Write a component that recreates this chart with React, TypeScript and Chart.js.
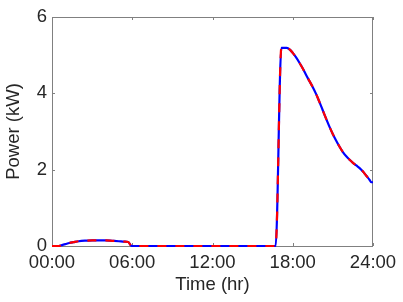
import React, { useEffect, useRef } from "react";
import { Chart, registerables } from "chart.js";

Chart.register(...registerables);

const hours = [
  0, 0.5, 0.8, 1.0, 1.3, 1.6, 2.0, 2.5, 3.0, 3.5, 4.0, 4.5, 5.0, 5.4, 5.7, 5.95,
  8, 12, 16.72, 17.15, 17.55, 17.8, 18.0, 18.25, 18.5, 18.75, 19.0, 19.25, 19.5,
  19.75, 20.0, 20.25, 20.5, 20.75, 21.0, 21.25, 21.5, 21.75, 22.0, 22.25, 22.5,
  22.75, 23.0, 23.25, 23.5, 23.75, 23.88, 24.0,
];
const power = [
  0, 0, 0.03, 0.05, 0.08, 0.1, 0.125, 0.14, 0.148, 0.15, 0.145, 0.135, 0.125,
  0.115, 0.105, 0, 0, 0, 0, 5.19, 5.19, 5.14, 5.06, 4.94, 4.8, 4.65, 4.48,
  4.32, 4.16, 3.98, 3.77, 3.55, 3.33, 3.12, 2.93, 2.76, 2.6, 2.46, 2.35, 2.26,
  2.18, 2.11, 2.04, 1.95, 1.84, 1.73, 1.67, 1.67,
];
const xTicks = [0, 6, 12, 18, 24];
const yTicks = [0, 2, 4, 6];
const xTitle = "Time (hr)";
const yTitle = "Power (kW)";

const FONT = "'Liberation Sans', Arial, Helvetica, sans-serif";
const TEXT = "#262626";

const boxPlugin = {
  id: "matlabBox",
  beforeDatasetsDraw(chart: any) {
    const { ctx, chartArea: a, scales } = chart;
    ctx.save();
    ctx.strokeStyle = "#808080";
    ctx.lineWidth = 1;
    ctx.strokeRect(a.left + 0.5, a.top + 0.5, a.right - a.left - 1, a.bottom - a.top);
    const tl = 3;
    ctx.beginPath();
    for (const v of xTicks) {
      const x = Math.round(scales.x.getPixelForValue(v)) + 0.5;
      ctx.moveTo(x, a.bottom);
      ctx.lineTo(x, a.bottom - tl);
      ctx.moveTo(x, a.top);
      ctx.lineTo(x, a.top + tl);
    }
    for (const v of yTicks) {
      const y = Math.round(scales.y.getPixelForValue(v)) + 0.5;
      ctx.moveTo(a.left, y);
      ctx.lineTo(a.left + tl, y);
      ctx.moveTo(a.right, y);
      ctx.lineTo(a.right - tl, y);
    }
    ctx.stroke();
    ctx.restore();
  },
};

export default function App() {
  const ref = useRef<HTMLCanvasElement | null>(null);
  useEffect(() => {
    if (!ref.current) return;
    const pts = hours.map((h, i) => ({ x: h, y: power[i] }));
    const chart = new Chart(ref.current, {
      type: "line",
      data: {
        datasets: [
          {
            data: pts,
            borderColor: "#ff0000",
            borderWidth: 2.2,
            borderDash: [9, 9],
            pointRadius: 0,
            cubicInterpolationMode: "monotone",
            clip: 4,
          },
          {
            data: pts,
            borderColor: "#0000ff",
            borderWidth: 2.2,
            pointRadius: 0,
            cubicInterpolationMode: "monotone",
            clip: 4,
          },
        ],
      },
      plugins: [boxPlugin],
      options: {
        animation: false,
        responsive: false,
        maintainAspectRatio: false,
        layout: { padding: { left: 0, top: 17, right: 30, bottom: 0 } },
        plugins: { legend: { display: false }, tooltip: { enabled: false } },
        scales: {
          x: {
            type: "linear",
            min: 0,
            max: 24,
            afterFit(s: any) {
              s.height = 56;
            },
            afterBuildTicks(s: any) {
              s.ticks = xTicks.map((v) => ({ value: v }));
            },
            ticks: {
              autoSkip: false,
              maxRotation: 0,
              padding: 6,
              color: TEXT,
              font: { family: FONT, size: 18.5 },
              callback: (v: any) => String(v).padStart(2, "0") + ":00",
            },
            grid: { display: false, drawTicks: false },
            border: { display: false },
            title: {
              display: true,
              text: xTitle,
              color: TEXT,
              font: { family: FONT, size: 18.5 },
              padding: { top: 0, bottom: 6 },
            },
          },
          y: {
            min: 0,
            max: 6,
            afterFit(s: any) {
              s.width = 52;
            },
            afterBuildTicks(s: any) {
              s.ticks = yTicks.map((v) => ({ value: v }));
            },
            ticks: {
              padding: 5,
              color: TEXT,
              font: { family: FONT, size: 18.5 },
            },
            grid: { display: false, drawTicks: false },
            border: { display: false },
            title: {
              display: true,
              text: yTitle,
              color: TEXT,
              font: { family: FONT, size: 18.5 },
              padding: { top: 3, bottom: 0 },
            },
          },
        },
      },
    });
    return () => chart.destroy();
  }, []);
  return (
    <div style={{ position: "fixed", left: 0, top: 0, width: 403, height: 302, background: "#fff" }}>
      <canvas ref={ref} width={403} height={302} style={{ width: 403, height: 302 }} />
    </div>
  );
}
